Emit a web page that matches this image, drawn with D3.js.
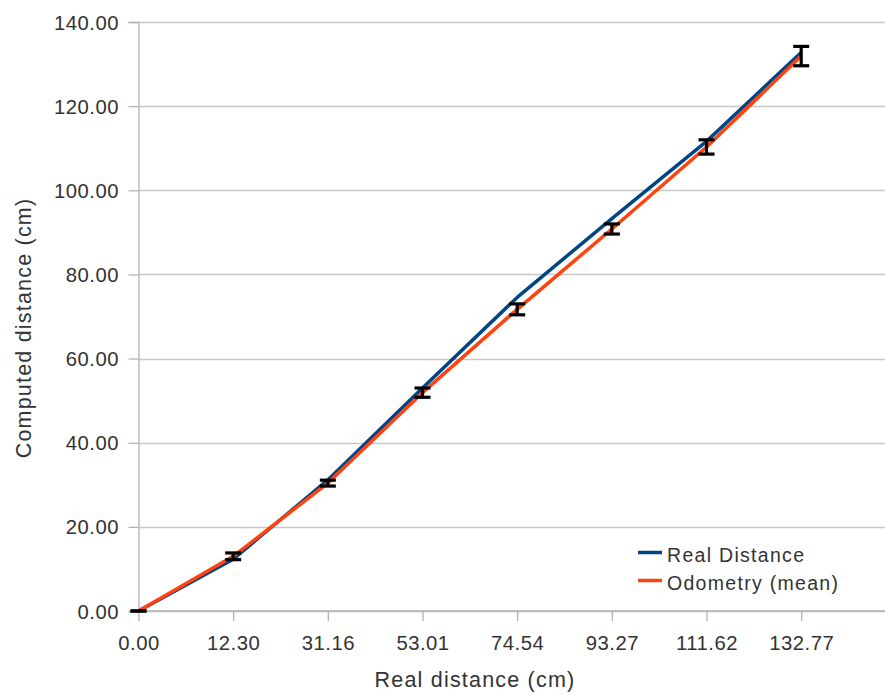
<!DOCTYPE html>
<html>
<head>
<meta charset="utf-8">
<script src="https://cdn.jsdelivr.net/npm/d3@7"></script>
<style>
  body { margin: 0; background: #fff; }
  text { font-family: "Liberation Sans", Arial, sans-serif; fill: #333; }
</style>
</head>
<body>
<svg id="chart" width="885" height="695"></svg>
<script>
// categories along the x axis (real distance, cm)
const categories = ['0.00', '12.30', '31.16', '53.01', '74.54', '93.27', '111.62', '132.77'];
const realDistance = [0, 12.30, 31.16, 53.01, 74.54, 93.27, 111.62, 132.77];
const odometryMean = [0, 13.0, 30.4, 51.9, 71.7, 90.8, 110.3, 131.9];
const odometryErr = [0, 0.8, 0.7, 1.1, 1.3, 1.2, 1.7, 2.3];
const yTicks = [0, 20, 40, 60, 80, 100, 120, 140];

const FONT = '"Liberation Sans", Arial, sans-serif';
const TICK_FONT_PX = 20.3;
const TICK_SPACING_PX = 0.5;
const PLOT_LEFT = 138.5;
const PLOT_RIGHT = 885;
const PLOT_TOP = 22;
const PLOT_BOTTOM = 611;
const STEP_PX = 94.67;

const svg = d3.select('#chart');

const x = d3.scalePoint()
  .domain(categories)
  .range([PLOT_LEFT, PLOT_LEFT + STEP_PX * (categories.length - 1)]);

const y = d3.scaleLinear()
  .domain([0, 140])
  .range([PLOT_BOTTOM, PLOT_TOP]);

// horizontal grid lines
svg.append('g')
  .selectAll('line')
  .data(yTicks)
  .join('line')
    .attr('x1', PLOT_LEFT)
    .attr('x2', PLOT_RIGHT)
    .attr('y1', d => Math.round(y(d)) + 0.5)
    .attr('y2', d => Math.round(y(d)) + 0.5)
    .attr('stroke', '#c8c8c8')
    .attr('stroke-width', 1.3);

// y axis
const yAxis = svg.append('g')
  .attr('transform', `translate(${PLOT_LEFT},0)`)
  .call(d3.axisLeft(y).tickValues(yTicks).tickFormat(d3.format('.2f')).tickSize(10).tickPadding(9.5));
yAxis.select('.domain').attr('stroke', '#b3b3b3').attr('stroke-width', 1.3);
yAxis.selectAll('.tick line').attr('stroke', '#b3b3b3').attr('stroke-width', 1.3);
yAxis.selectAll('.tick text')
  .attr('font-size', TICK_FONT_PX)
  .attr('letter-spacing', TICK_SPACING_PX)
  .attr('font-family', FONT)
  .attr('dy', '0.35em')
  .attr('fill', '#333');

// x axis
const xAxis = svg.append('g')
  .attr('transform', `translate(0,${PLOT_BOTTOM})`)
  .call(d3.axisBottom(x).tickSize(10).tickPadding(14.5).tickSizeOuter(0));
xAxis.select('.domain')
  .attr('d', `M${PLOT_LEFT},0H${PLOT_RIGHT}`)
  .attr('stroke', '#b3b3b3').attr('stroke-width', 1.3);
xAxis.selectAll('.tick line').attr('stroke', '#b3b3b3').attr('stroke-width', 1.3);
xAxis.selectAll('.tick text')
  .attr('font-size', TICK_FONT_PX)
  .attr('letter-spacing', TICK_SPACING_PX)
  .attr('font-family', FONT)
  .attr('fill', '#333');

// axis titles
svg.append('text')
  .attr('x', 475)
  .attr('y', 687)
  .attr('text-anchor', 'middle')
  .attr('font-size', 21.5)
  .attr('letter-spacing', 1.2)
  .text('Real distance (cm)');

svg.append('text')
  .attr('transform', `translate(31,328) rotate(-90)`)
  .attr('text-anchor', 'middle')
  .attr('font-size', 21.5)
  .attr('letter-spacing', 1.2)
  .text('Computed distance (cm)');

// series lines
const line = d3.line()
  .x((d, i) => x(categories[i]))
  .y(d => y(d));

svg.append('path')
  .datum(realDistance)
  .attr('fill', 'none')
  .attr('stroke', '#004586')
  .attr('stroke-width', 3.5)
  .attr('stroke-linejoin', 'round')
  .attr('d', line);

svg.append('path')
  .datum(odometryMean)
  .attr('fill', 'none')
  .attr('stroke', '#ff420e')
  .attr('stroke-width', 3.5)
  .attr('stroke-linejoin', 'round')
  .attr('d', line);

// error bars on odometry
const CAP_HALF_PX = 8;
const bars = svg.append('g')
  .selectAll('g')
  .data(odometryMean.map((m, i) => ({ cat: categories[i], mean: m, err: odometryErr[i] })))
  .join('g')
    .attr('stroke', '#000')
    .attr('stroke-width', 3.2);

bars.append('line')
  .attr('x1', d => x(d.cat))
  .attr('x2', d => x(d.cat))
  .attr('y1', d => y(d.mean - d.err))
  .attr('y2', d => y(d.mean + d.err));

bars.append('line')
  .attr('x1', d => x(d.cat) - CAP_HALF_PX)
  .attr('x2', d => x(d.cat) + CAP_HALF_PX)
  .attr('y1', d => y(d.mean + d.err))
  .attr('y2', d => y(d.mean + d.err));

bars.append('line')
  .attr('x1', d => x(d.cat) - CAP_HALF_PX)
  .attr('x2', d => x(d.cat) + CAP_HALF_PX)
  .attr('y1', d => y(d.mean - d.err))
  .attr('y2', d => y(d.mean - d.err));

// legend
const legendItems = [
  { label: 'Real Distance', color: '#004586' },
  { label: 'Odometry (mean)', color: '#ff420e' }
];
const legend = svg.append('g')
  .selectAll('g')
  .data(legendItems)
  .join('g')
    .attr('transform', (d, i) => `translate(638,${552.5 + i * 28})`);

legend.append('line')
  .attr('x1', 0)
  .attr('x2', 24)
  .attr('y1', 0)
  .attr('y2', 0)
  .attr('stroke', d => d.color)
  .attr('stroke-width', 3.5);

legend.append('text')
  .attr('x', 29)
  .attr('y', 9.2)
  .attr('font-size', 19.5)
  .attr('letter-spacing', 1.3)
  .text(d => d.label);
</script>
</body>
</html>
